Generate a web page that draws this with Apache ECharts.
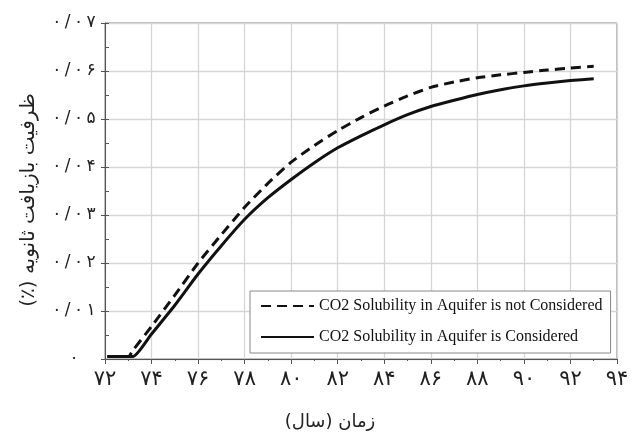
<!DOCTYPE html>
<html>
<head>
<meta charset="utf-8">
<script src="https://cdn.jsdelivr.net/npm/echarts@6/dist/echarts.min.js"></script>
<style>
  html, body { margin: 0; padding: 0; background: #fff; }
  #chart { width: 634px; height: 436px; }
</style>
</head>
<body>
<div id="chart"></div>
<script>
// Time axis (years) shared by both recovery curves
const years = [72.1, 73.0, 73.2, 74, 75, 76, 77, 78, 79, 80, 81, 82, 83, 84, 85, 86, 87, 88, 89, 90, 91, 92, 93];

// Secondary recovery capacity (%) without CO2 dissolution in the aquifer
const recoveryNoSolubility = [0.0005, 0.0005, 0.0018, 0.0068, 0.0133, 0.0200, 0.0259, 0.0316, 0.0366, 0.0410, 0.0445, 0.0476, 0.0503, 0.0527, 0.0548, 0.0566, 0.0577, 0.0586, 0.0592, 0.0597, 0.0602, 0.0606, 0.0610];

// Secondary recovery capacity (%) with CO2 dissolution in the aquifer
const recoveryWithSolubility = [0.0005, 0.0005, 0.0005, 0.0052, 0.0112, 0.0177, 0.0236, 0.0291, 0.0336, 0.0374, 0.0409, 0.0440, 0.0465, 0.0488, 0.0509, 0.0526, 0.0539, 0.0551, 0.0561, 0.0569, 0.0575, 0.0580, 0.0584];

const seriesNames = [
  'CO2 Solubility in Aquifer is not Considered',
  'CO2 Solubility in Aquifer is Considered'
];

// Tick labels in Persian digits
const xTickValues = [72, 74, 76, 78, 80, 82, 84, 86, 88, 90, 92, 94];
const xTickLabels = ['۷۲', '۷۴', '۷۶', '۷۸', '۸۰', '۸۲', '۸۴', '۸۶', '۸۸', '۹۰', '۹۲', '۹۴'];
const yTickValues = [0, 0.01, 0.02, 0.03, 0.04, 0.05, 0.06, 0.07];
const yTickLabels = ['۰', '۰/۰۱', '۰/۰۲', '۰/۰۳', '۰/۰۴', '۰/۰۵', '۰/۰۶', '۰/۰۷'];

// Axis titles, embedded right-to-left
const xTitle = '\u202Bزمان (سال)\u202C';
const yTitle = '\u202Bظرفیت بازیافت ثانویه (٪)\u202C';

function labelFor(values, labels, v) {
  for (let i = 0; i < values.length; i++) {
    if (Math.abs(values[i] - v) < 1e-9) return labels[i];
  }
  return '';
}
// spread the characters of a tick label slightly apart
function spaced(s) {
  return s.split('').join('\u2009');
}

const persianFont = 'DejaVu Sans';
const axisColor = '#555';
const gridColor = '#d6d6d6';

const chart = echarts.init(document.getElementById('chart'), null, { renderer: 'canvas' });

chart.setOption({
  backgroundColor: '#fff',
  animation: false,
  grid: {
    left: 105, right: 17, top: 23, bottom: 77,
    show: true, borderColor: '#777', borderWidth: 1,
    outerBoundsMode: 'none'
  },
  legend: {
    orient: 'vertical',
    left: 250, top: 291,
    padding: [7, 8, 8, 10],
    itemWidth: 53, itemHeight: 14, itemGap: 15,
    backgroundColor: '#fff',
    borderColor: '#888', borderWidth: 1, borderRadius: 0,
    itemStyle: { opacity: 0 },
    textStyle: { fontFamily: 'Liberation Serif', fontSize: 16, color: '#111' },
    data: seriesNames
  },
  graphic: [
    {
      type: 'text', x: 330, y: 422,
      style: {
        text: xTitle, align: 'center', verticalAlign: 'middle',
        fontFamily: persianFont, fontSize: 18, fill: '#222'
      }
    }
  ],
  xAxis: {
    type: 'value', min: 72, max: 94, interval: 2,
    axisLine: { show: true, onZero: false, lineStyle: { color: axisColor, width: 1 } },
    axisTick: { show: true, length: 5, lineStyle: { color: axisColor } },
    minorTick: { show: true, splitNumber: 2, length: 2, lineStyle: { color: axisColor } },
    axisLabel: {
      margin: 10, fontFamily: persianFont, fontSize: 21, color: '#222',
      formatter: v => labelFor(xTickValues, xTickLabels, v)
    },
    splitLine: { show: true, lineStyle: { color: gridColor, width: 1.3 } }
  },
  yAxis: [
    {
      type: 'value', min: 0, max: 0.07, interval: 0.01,
      axisLine: { show: true, lineStyle: { color: axisColor, width: 1 } },
      axisTick: { show: true, length: 4, lineStyle: { color: axisColor } },
      axisLabel: {
        align: 'center', margin: 31, fontFamily: persianFont, fontSize: 17, color: '#222',
        formatter: v => spaced(labelFor(yTickValues, yTickLabels, v))
      },
      splitLine: { show: true, lineStyle: { color: gridColor, width: 1.3 } },
      name: yTitle, nameLocation: 'middle', nameGap: 66, nameRotate: 90,
      nameTextStyle: { fontFamily: persianFont, fontSize: 20, color: '#222', padding: [0, 18, 0, 0] }
    },
    {
      // inner half-step ticks along the left edge
      type: 'value', min: 0, max: 0.07, interval: 0.005, position: 'left',
      axisLine: { show: false },
      axisTick: { show: true, inside: true, length: 4, lineStyle: { color: axisColor } },
      axisLabel: { show: false },
      splitLine: { show: false }
    }
  ],
  series: [
    {
      name: seriesNames[0], type: 'line', yAxisIndex: 0,
      data: years.map((x, i) => [x, recoveryNoSolubility[i]]),
      symbol: 'none', smooth: 0.2,
      lineStyle: { color: '#111', width: 3, type: [10, 6] },
      itemStyle: { color: '#111' }
    },
    {
      name: seriesNames[1], type: 'line', yAxisIndex: 0,
      data: years.map((x, i) => [x, recoveryWithSolubility[i]]),
      symbol: 'none', smooth: 0.2,
      lineStyle: { color: '#111', width: 3, type: 'solid' },
      itemStyle: { color: '#111' }
    }
  ]
});
</script>
</body>
</html>
